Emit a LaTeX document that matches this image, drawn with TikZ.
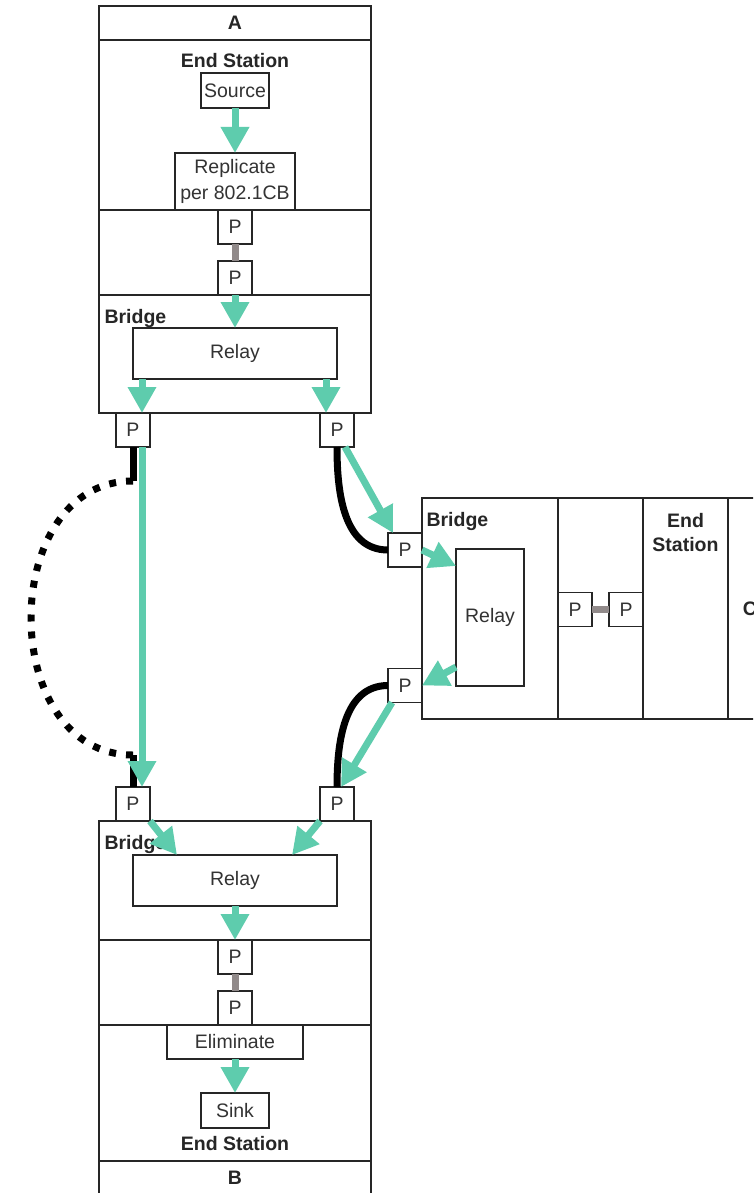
\documentclass[tikz,border=0pt]{standalone}
\usepackage{fontspec}
\setmainfont{Liberation Sans}
\usetikzlibrary{arrows.meta, positioning}
\definecolor{flowgreen}{RGB}{94,204,173}
\definecolor{linkgray}{RGB}{145,138,138}
\tikzstyle{sec} = [draw=black!85, line width=1.5pt, inner sep=0pt, outer sep=0pt]
\tikzstyle{blk} = [draw=black!85, fill=white, line width=1.5pt, inner sep=0pt, outer sep=0pt, align=center, text=black!80]
\tikzstyle{port} = [blk, minimum width=34, minimum height=34]
\tikzstyle{flow} = [line width=7pt, draw=flowgreen, -{Triangle[length=26pt,width=27pt]}]
\tikzstyle{lnk} = [line width=7pt, draw=linkgray]
\tikzstyle{cable} = [line width=7pt, black]
\tikzstyle{ttl} = [font=\bfseries\fontsize{19.5}{24}\selectfont, text=black!85]

\begin{document}
\begin{tikzpicture}[x=1pt, y=-1pt, font=\fontsize{19.5}{26}\selectfont]
		\useasboundingbox (0,0) rectangle (753,1193);
		\clip (0,0) rectangle (753,1193);
		\fill [white] (0,0) rectangle (753,1193);
		% station A
		\node (bandA) [sec, ttl, minimum width=272, minimum height=34] at (235,23) {A};
		\node (esA) [sec, minimum width=272, minimum height=170] at (235,125) {};
		\node (lkA) [sec, minimum width=272, minimum height=85] at (235,252.5) {};
		\node (brA) [sec, minimum width=272, minimum height=118] at (235,354) {};
		\node (esAlbl) [ttl] at (235,61) {End Station};
		\node (src) [blk, minimum width=68, minimum height=35] at (235,90.5) {Source};
		\node (rep) [blk, minimum width=120, minimum height=57] at (235,181.5) {Replicate\\per 802.1CB};
		\node (pA1) [port] at (235,227) {P};
		\node (pA2) [port, below=17pt of pA1] {P};
		\node (brAlbl) [ttl, anchor=west] at (101,318) {Bridge};
		\node (relA) [blk, minimum width=204, minimum height=51] at (235,353.5) {Relay};
		\node (pA3) [port] at (133,430) {P};
		\node (pA4) [port, right=170pt of pA3] {P};
		% station C
		\node (brR) [sec, minimum width=136, minimum height=221] at (490,608.5) {};
		\node (lkR) [sec, minimum width=85, minimum height=221] at (600.5,608.5) {};
		\node (esR) [sec, minimum width=85, minimum height=221] at (685.5,608.5) {};
		\node (bandC) [sec, ttl, minimum width=44, minimum height=221] at (750,608.5) {C};
		\node (brRlbl) [ttl, anchor=west] at (423,521) {Bridge};
		\node (esRlbl) [ttl, align=center] at (685.5,533) {End\\Station};
		\node (relR) [blk, minimum width=68, minimum height=137] at (490,617.5) {Relay};
		\node (pR1) [port] at (405,550) {P};
		\node (pR2) [port] at (405,685.5) {P};
		\node (pR3) [port] at (575,609.5) {P};
		\node (pR4) [port, right=17pt of pR3] {P};
		% station B
		\node (pB1) [port] at (133,804) {P};
		\node (pB2) [port] at (337,804) {P};
		\node (brB) [sec, minimum width=272, minimum height=119] at (235,880.5) {};
		\node (lkB) [sec, minimum width=272, minimum height=85] at (235,982.5) {};
		\node (esB) [sec, minimum width=272, minimum height=136] at (235,1093) {};
		\node (bandB) [sec, ttl, minimum width=272, minimum height=34] at (235,1178) {B};
		\node (brBlbl) [ttl, anchor=west] at (101,844) {Bridge};
		\node (relB) [blk, minimum width=204, minimum height=51] at (235,880.5) {Relay};
		\node (pB3) [port] at (235,957) {P};
		\node (pB4) [port, below=17pt of pB3] {P};
		\node (elim) [blk, minimum width=136, minimum height=34] at (235,1042) {Eliminate};
		\node (sink) [blk, minimum width=68, minimum height=35] at (235,1110.5) {Sink};
		\node (esBlbl) [ttl] at (235,1144) {End Station};
		% links
		\draw [lnk] (pA1) -- (pA2);
		\draw [lnk] (pR3) -- (pR4);
		\draw [lnk] (pB3) -- (pB4);
		% cables
		\coordinate (dA) at (133,481);
		\coordinate (dB) at (133,755);
		\draw [cable] (pA3.south) -- (dA);
		\draw [cable, dash pattern=on 7pt off 10pt] (dA) .. controls (-3,481) and (-3,755) .. (dB);
		\draw [cable] (dB) -- (pB1.north);
		\draw [cable] (pA4.south) to[out=-90, in=180] (pR1.west);
		\draw [cable] (pR2.west) to[out=180, in=90] (pB2.north);
		% flows
		\coordinate (fA3) at ([xshift=9pt]pA3.north);
		\coordinate (fA4) at ([xshift=-11pt]pA4.north);
		\draw [flow] (src) -- (rep);
		\draw [flow] (pA2) -- (relA);
		\draw [flow] (fA3 |- relA.south) -- (fA3);
		\draw [flow] (fA4 |- relA.south) -- (fA4);
		\draw [flow] ([xshift=9pt]pA3.south) -- ([xshift=9pt]pB1.north);
		\draw [flow] ([xshift=8pt]pA4.south) -- ([xshift=-12pt]pR1.north);
		\draw [flow] (pR1.east) -- ([yshift=-17pt]relR.north west);
		\draw [flow] ([yshift=19pt]relR.south west) -- (pR2.east);
		\draw [flow] ([xshift=-13pt]pR2.south) -- ([xshift=4pt]pB2.north);
		\draw [flow] (pB1.south east) -- ([xshift=44pt]relB.north west);
		\draw [flow] (pB2.south west) -- ([xshift=-45pt]relB.north east);
		\draw [flow] (relB) -- (pB3);
		\draw [flow] (elim) -- (sink);
\end{tikzpicture}
\end{document}
